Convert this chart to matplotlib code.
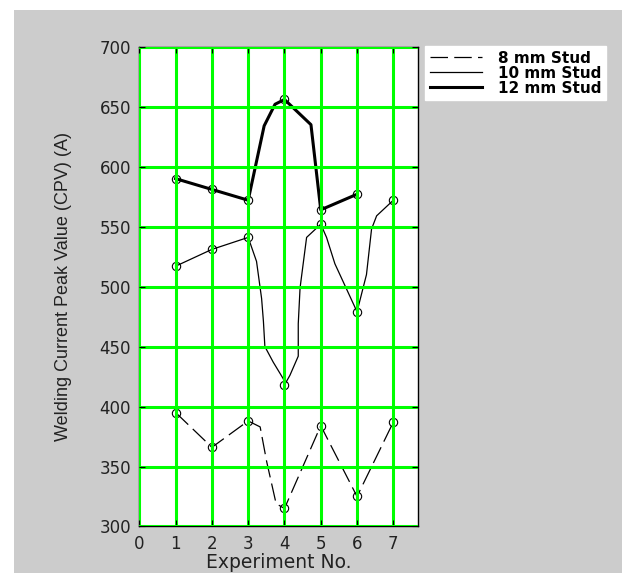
import matplotlib.pyplot as plt
from matplotlib.patches import Rectangle
from matplotlib.font_manager import FontProperties

# experiment numbers and peak current values (A) at the marked points
experiments = [1, 2, 3, 4, 5, 6, 7]
stud8_cpv = [395, 366, 388, 315, 384, 325, 387]
stud10_cpv = [517, 531, 541, 418, 552, 479, 572]
stud12_cpv = [590, 581, 572, 656, 564, 577]

# traces of the drawn lines (incl. bends between markers)
stud8_line_x = [1, 2, 3, 3.33, 3.51, 3.77, 4, 5, 6, 7]
stud8_line_y = [395, 366, 388, 383, 354, 319, 315, 384, 325, 387]
stud10_line_x = [1, 2, 3, 3.23, 3.37, 3.42, 3.46, 3.69, 3.97, 4, 4.15, 4.38,
                 4.38, 4.43, 4.61, 5, 5.16, 5.39, 6, 6.26, 6.4, 6.54, 7]
stud10_line_y = [517, 531, 541, 521, 490, 471, 450, 437, 423, 418, 426, 442,
                 469, 499, 541, 552, 541, 519, 479, 510, 548, 559, 572]
stud12_line_x = [1, 2, 3, 3.44, 3.74, 4, 4.73, 5, 6]
stud12_line_y = [590, 581, 572, 634, 652, 656, 635, 564, 577]

x_ticks = [0, 1, 2, 3, 4, 5, 6, 7]
y_ticks = [300, 350, 400, 450, 500, 550, 600, 650, 700]

fig = plt.figure(figsize=(6.22, 5.73), dpi=100, facecolor='white')
# grey panel with a white strip on top and left, like the screenshot
fig.patches.append(Rectangle((14 / 622, 0), 1, 1 - 10 / 573, transform=fig.transFigure,
                             facecolor='#cccccc', edgecolor='none', zorder=-10))

ax = fig.add_axes([0.224, 0.0812, 0.4486, 0.8373])
ax.set_facecolor('white')

dash = (0, (14, 5))
l8, = ax.plot(stud8_line_x, stud8_line_y, color='black', lw=0.9, linestyle=dash)
l10, = ax.plot(stud10_line_x, stud10_line_y, color='black', lw=0.9)
l12, = ax.plot(stud12_line_x, stud12_line_y, color='black', lw=2.2)

mk = dict(linestyle='none', marker='o', ms=6, mfc='none', mec='black', mew=0.8)
ax.plot(experiments, stud8_cpv, **mk)
ax.plot(experiments, stud10_cpv, **mk)
ax.plot(experiments[:len(stud12_cpv)], stud12_cpv, **mk)

ax.set_xlim(0, 7.69)
ax.set_ylim(300, 700)
ax.set_xticks(x_ticks)
ax.set_yticks(y_ticks)
ax.set_axisbelow(False)
ax.grid(True, color='#00ff00', lw=2.2)
ax.tick_params(direction='in', length=4, top=True, right=True, color='black',
               labelcolor='#222222', labelsize=12, pad=6)
for lab in ax.get_xticklabels() + ax.get_yticklabels():
    lab.set_family('DejaVu Sans')
for s in ax.spines.values():
    s.set_color('black')
    s.set_linewidth(1)

ax.set_xlabel('Experiment No.', fontsize=13.5, family='DejaVu Sans', color='#222222',
              labelpad=0)
ax.set_ylabel('Welding Current Peak Value (CPV) (A)', fontsize=13,
              family='Liberation Sans', color='#222222', labelpad=20)

leg_font = FontProperties(family='DejaVu Sans', weight='bold', stretch='normal', size=11)
leg = fig.legend([l8, l10, l12], ['8 mm Stud', '10 mm Stud', '12 mm Stud'],
                 loc='upper left', bbox_to_anchor=(425 / 622, 1 - 46 / 573),
                 prop=leg_font, handlelength=3.4, handletextpad=1.1, labelspacing=0.0,
                 borderpad=0.3, borderaxespad=0, fancybox=False, framealpha=1)
leg.get_frame().set_edgecolor('white')
leg.get_frame().set_facecolor('white')

plt.savefig('out.png', dpi=100)
